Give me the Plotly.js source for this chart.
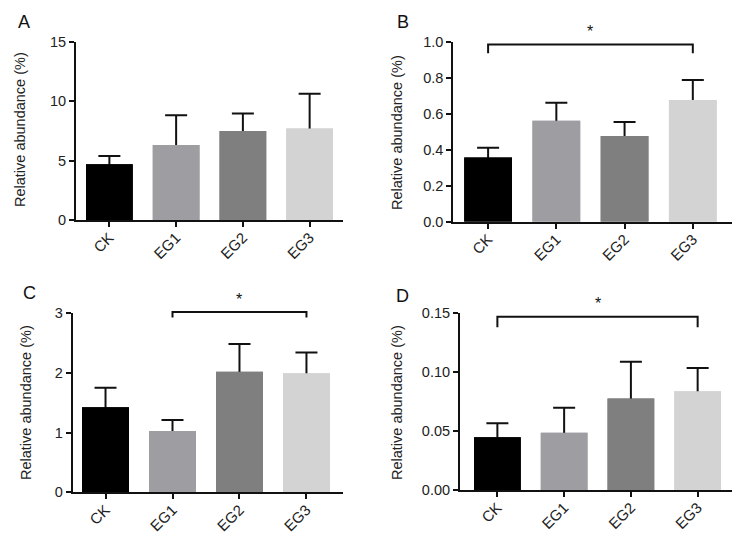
<!DOCTYPE html>
<html>
<head>
<meta charset="utf-8">
<script src="https://cdn.plot.ly/plotly-3.0.1.min.js"></script>
<style>html,body{margin:0;padding:0;background:#fff;} #chart{width:740px;height:547px;}</style>
</head>
<body>
<div id="chart"></div>
<script>
// ---- data ----
const categories = ['CK', 'EG1', 'EG2', 'EG3'];
const barColors = ['#000000', '#9e9ea2', '#7f7f7f', '#d3d3d3'];

const meanA = [4.70, 6.30, 7.48, 7.70];
const sdA   = [0.68, 2.52, 1.49, 2.92];
const ticksA = [0, 5, 10, 15];

const meanB = [0.356, 0.561, 0.476, 0.676];
const sdB   = [0.055, 0.100, 0.078, 0.111];
const ticksB = [0.0, 0.2, 0.4, 0.6, 0.8, 1.0];
const tickTextB = ['0.0', '0.2', '0.4', '0.6', '0.8', '1.0'];

const meanC = [1.425, 1.028, 2.022, 1.994];
const sdC   = [0.329, 0.184, 0.464, 0.347];
const ticksC = [0, 1, 2, 3];

const meanD = [0.0446, 0.0485, 0.0775, 0.0835];
const sdD   = [0.0118, 0.0211, 0.0311, 0.0197];
const ticksD = [0.00, 0.05, 0.10, 0.15];
const tickTextD = ['0.00', '0.05', '0.10', '0.15'];

// significance brackets: [from, to, bracket level, tick end level]
const sigB = ['CK', 'EG3', 0.984, 0.936];
const sigC = ['EG1', 'EG3', 3.02, 2.93];
const sigD = ['CK', 'EG3', 0.1466, 0.1376];

const yTitle = 'Relative abundance (%)';
const panelLetters = ['A', 'B', 'C', 'D'];

// ---- layout helpers ----
const W = 740, H = 547;
const px = v => v / W;
const py = v => 1 - v / H;

const panels = [
  {mean: meanA, sd: sdA, ticks: ticksA, tickText: ticksA.map(String), range: [0, 15], xr: [-0.5, 3.5], xd: [76, 343], yd: [41.7, 220], sig: null,
   letter: [24, 22], title: [20, 130]},
  {mean: meanB, sd: sdB, ticks: ticksB, tickText: tickTextB, range: [0, 1], xr: [-0.51, 3.57], xd: [453.3, 731.7], yd: [41.7, 221.7], sig: sigB,
   letter: [403, 22], title: [397, 132]},
  {mean: meanC, sd: sdC, ticks: ticksC, tickText: ticksC.map(String), range: [0, 3], xr: [-0.49, 3.55], xd: [72.7, 343.3], yd: [313.3, 492.3], sig: sigC,
   letter: [29, 293], title: [26, 403]},
  {mean: meanD, sd: sdD, ticks: ticksD, tickText: tickTextD, range: [0, 0.15], xr: [-0.56, 3.51], xd: [460, 731.7], yd: [312.7, 490], sig: sigD,
   letter: [402, 296], title: [397, 402]}
];

const FONT = 'Liberation Sans, Arial, sans-serif';
const INK = '#111111';
const data = [];
const layout = {
  width: W, height: H,
  margin: {l: 0, r: 0, t: 0, b: 0},
  paper_bgcolor: '#ffffff', plot_bgcolor: '#ffffff',
  showlegend: false, barmode: 'overlay',
  font: {family: FONT, size: 14, color: '#222'},
  annotations: [], shapes: []
};

panels.forEach((p, i) => {
  const n = i + 1;
  const xa = n === 1 ? 'x' : 'x' + n;
  const ya = n === 1 ? 'y' : 'y' + n;
  const xk = n === 1 ? 'xaxis' : 'xaxis' + n;
  const yk = n === 1 ? 'yaxis' : 'yaxis' + n;
  // bars with symmetric error bars, then the same bars on top hiding the lower half
  data.push({
    type: 'bar', x: categories, y: p.mean, xaxis: xa, yaxis: ya,
    width: 0.7,
    marker: {color: barColors, line: {width: 0}},
    error_y: {type: 'data', symmetric: true, array: p.sd,
              color: INK, thickness: 2, width: 11},
    hoverinfo: 'none'
  });
  data.push({
    type: 'bar', x: categories, y: p.mean, xaxis: xa, yaxis: ya,
    width: 0.7,
    marker: {color: barColors, line: {width: 0}},
    hoverinfo: 'none'
  });
  layout[xk] = {
    domain: [px(p.xd[0]), px(p.xd[1])], anchor: ya,
    type: 'category', range: p.xr, fixedrange: true,
    showline: true, linecolor: INK, linewidth: 2,
    ticks: 'outside', ticklen: 5, tickwidth: 2, tickcolor: INK,
    tickangle: -45, ticklabelstandoff: -4,
    tickfont: {family: FONT, size: 15, color: '#222'},
    showgrid: false, zeroline: false
  };
  layout[yk] = {
    domain: [py(p.yd[1]), py(p.yd[0])], anchor: xa,
    range: p.range, fixedrange: true,
    tickmode: 'array', tickvals: p.ticks, ticktext: p.tickText,
    showline: true, linecolor: INK, linewidth: 2,
    ticks: 'outside', ticklen: 5, tickwidth: 2, tickcolor: INK,
    tickfont: {family: FONT, size: 14.5, color: '#222'},
    showgrid: false, zeroline: false
  };
  layout.annotations.push({
    xref: 'paper', yref: 'paper', x: px(p.letter[0]), y: py(p.letter[1]),
    text: panelLetters[i], showarrow: false, xanchor: 'center', yanchor: 'middle',
    font: {family: FONT, size: 18, color: '#111'}
  });
  layout.annotations.push({
    xref: 'paper', yref: 'paper', x: px(p.title[0]), y: py(p.title[1]),
    text: yTitle, showarrow: false, textangle: -90, xanchor: 'center', yanchor: 'middle',
    font: {family: FONT, size: 14.5, color: '#222'}
  });
  if (p.sig) {
    const i0 = categories.indexOf(p.sig[0]);
    const i1 = categories.indexOf(p.sig[1]);
    const frac = v => (v - p.range[0]) / (p.range[1] - p.range[0]);
    const yt = frac(p.sig[2]), yb = frac(p.sig[3]);
    layout.shapes.push({
      type: 'path', xref: xa, yref: ya + ' domain',
      path: `M ${i0},${yb} L ${i0},${yt} L ${i1},${yt} L ${i1},${yb}`,
      line: {color: INK, width: 2}
    });
    layout.annotations.push({
      xref: xa, yref: ya + ' domain', x: (i0 + i1) / 2, y: yt, yshift: 13,
      text: '*', showarrow: false, xanchor: 'center', yanchor: 'middle',
      font: {family: FONT, size: 16, color: '#111'}
    });
  }
});

Plotly.newPlot('chart', data, layout, {displayModeBar: false, staticPlot: true});
</script>
</body>
</html>
